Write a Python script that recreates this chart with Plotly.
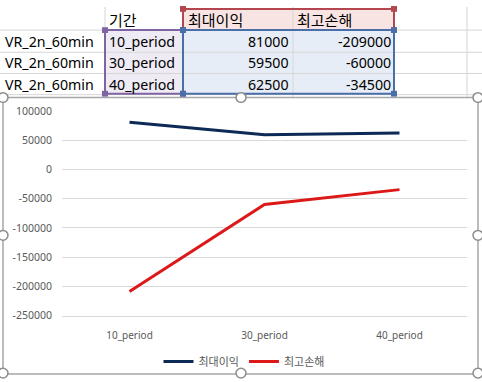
import plotly.graph_objects as go

# ---- data ----
row_labels = ["VR_2n_60min", "VR_2n_60min", "VR_2n_60min"]
header_period = "기간"
series_names = ["최대이익", "최고손해"]
categories = ["10_period", "30_period", "40_period"]
max_profit = [81000, 59500, 62500]
max_loss = [-209000, -60000, -34500]
y_tickvals = [100000, 50000, 0, -50000, -100000, -150000, -200000, -250000]
y_ticktext = ["100000", "50000", "0", "-50000", "-100000", "-150000", "-200000", "-250000"]

W, H = 482, 382
KR = "Noto Sans CJK KR"
LAT = "Noto Sans, Noto Sans CJK KR"


def px(x):
    return x / W


def py(y):
    return 1 - y / H


shapes = []
annotations = []

# ---- spreadsheet cells ----
fill_cat = "#efebf5"
fill_head = "#f9e4e4"
fill_val = "#e7edf7"
shapes.append(dict(type="rect", xref="paper", yref="paper", x0=px(105), x1=px(183), y0=py(24), y1=py(91),
                   fillcolor=fill_cat, line_width=0, layer="below"))
shapes.append(dict(type="rect", xref="paper", yref="paper", x0=px(183), x1=px(394), y0=py(2), y1=py(24),
                   fillcolor=fill_head, line_width=0, layer="below"))
shapes.append(dict(type="rect", xref="paper", yref="paper", x0=px(183), x1=px(394), y0=py(24), y1=py(91),
                   fillcolor=fill_val, line_width=0, layer="below"))
grid_c = "#d6d6d6"
for yy in [24, 47, 69, 91]:
    shapes.append(dict(type="line", xref="paper", yref="paper", x0=0, x1=1, y0=py(yy), y1=py(yy),
                       line=dict(color=grid_c, width=1), layer="below"))
for xx in [105, 183, 293, 394, 467]:
    shapes.append(dict(type="line", xref="paper", yref="paper", x0=px(xx), x1=px(xx), y0=py(0), y1=py(94),
                       line=dict(color=grid_c, width=1), layer="below"))

# range highlight borders
def box(x0, y0, x1, y1, color):
    shapes.append(dict(type="rect", xref="paper", yref="paper", x0=px(x0), x1=px(x1), y0=py(y0), y1=py(y1),
                       line=dict(color=color, width=2), fillcolor="rgba(0,0,0,0)"))
    for cx, cy in [(x0, y0), (x1, y0), (x0, y1), (x1, y1)]:
        shapes.append(dict(type="rect", xref="paper", yref="paper", x0=px(cx - 3), x1=px(cx + 3),
                           y0=py(cy - 3), y1=py(cy + 3), line_width=0, fillcolor=color))

box(105, 24, 183, 90, "#8064a2")
box(183, 2, 394, 24, "#b4464f")
box(183, 24, 394, 90, "#4a6ea8")

# cell texts
row_y = [36, 58, 80]
annotations.append(dict(text=header_period, x=px(107), y=py(13), xref="paper", yref="paper",
                        xanchor="left", yanchor="middle", showarrow=False, font=dict(family=KR, size=15, color="#000")))
annotations.append(dict(text=series_names[0], x=px(186), y=py(13), xref="paper", yref="paper",
                        xanchor="left", yanchor="middle", showarrow=False, font=dict(family=KR, size=15, color="#000")))
annotations.append(dict(text=series_names[1], x=px(295), y=py(13), xref="paper", yref="paper",
                        xanchor="left", yanchor="middle", showarrow=False, font=dict(family=KR, size=15, color="#000")))
for i in range(3):
    annotations.append(dict(text=row_labels[i], x=px(3), y=py(row_y[i]), xref="paper", yref="paper",
                            xanchor="left", yanchor="middle", showarrow=False,
                            font=dict(family=LAT, size=14.2, color="#000")))
    annotations.append(dict(text=categories[i], x=px(107), y=py(row_y[i]), xref="paper", yref="paper",
                            xanchor="left", yanchor="middle", showarrow=False,
                            font=dict(family=LAT, size=14.2, color="#000")))
    annotations.append(dict(text=str(max_profit[i]), x=px(291), y=py(row_y[i]), xref="paper", yref="paper",
                            xanchor="right", yanchor="middle", showarrow=False,
                            font=dict(family=LAT, size=14.2, color="#000")))
    annotations.append(dict(text=str(max_loss[i]), x=px(393), y=py(row_y[i]), xref="paper", yref="paper",
                            xanchor="right", yanchor="middle", showarrow=False,
                            font=dict(family=LAT, size=14.2, color="#000")))

# ---- chart area frame ----
shapes.append(dict(type="rect", xref="paper", yref="paper", x0=px(3), x1=px(478), y0=py(94), y1=py(381),
                   fillcolor="white", line=dict(color="#a6a6a6", width=1.5), layer="below"))
for cx, cy in [(3, 94), (241, 94), (478, 94), (3, 237), (478, 237), (3, 380), (241, 380), (478, 380)]:
    shapes.append(dict(type="circle", xref="paper", yref="paper", x0=px(cx - 5), x1=px(cx + 5),
                       y0=py(cy - 5), y1=py(cy + 5), fillcolor="white", line=dict(color="#8c8c8c", width=1.5)))

fig = go.Figure()
fig.add_trace(go.Scatter(x=categories, y=max_profit, mode="lines", name=series_names[0],
                         line=dict(color="#0c2a55", width=3)))
fig.add_trace(go.Scatter(x=categories, y=max_loss, mode="lines", name=series_names[1],
                         line=dict(color="#dc1818", width=3)))

fig.update_layout(
    width=W, height=H,
    margin=dict(l=0, r=0, t=0, b=0),
    paper_bgcolor="white", plot_bgcolor="rgba(0,0,0,0)",
    shapes=shapes, annotations=annotations,
    showlegend=True,
    legend=dict(orientation="h", x=px(244), y=py(368), xanchor="center", yanchor="middle",
                font=dict(family=KR, size=11, color="#595959"), itemwidth=30,
                bgcolor="rgba(0,0,0,0)"),
    xaxis=dict(domain=[px(62), px(467)], range=[-0.5, 2.5], showgrid=False, zeroline=False,
               showline=True, linecolor="#d9d9d9", linewidth=1, ticks="",
               tickfont=dict(family=LAT, size=10, color="#595959"), ticklabelstandoff=10),
    yaxis=dict(domain=[py(320.3), py(108)], range=[-250000, 100000], tickvals=y_tickvals, ticktext=y_ticktext,
               showgrid=True, gridcolor="#d9d9d9", gridwidth=1, zeroline=False, showline=False, ticks="",
               tickfont=dict(family=LAT, size=10.5, color="#595959"), ticklabelstandoff=9),
)

fig.write_html("out.html", config={"displayModeBar": False},
               post_script="document.body.style.margin='0';document.body.style.overflow='hidden';")
